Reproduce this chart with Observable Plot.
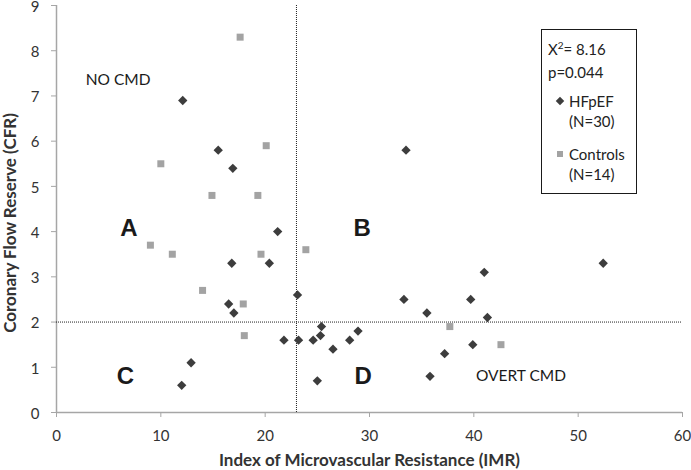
<!DOCTYPE html>
<html><head><meta charset="utf-8">
<script src="https://cdn.jsdelivr.net/npm/d3@7"></script>
<script src="https://cdn.jsdelivr.net/npm/@observablehq/plot@0.6"></script>
<style>
body{margin:0;background:#fff;font-family:Lato,sans-serif;}
#wrap{position:relative;width:691px;height:470px;}
.lg{position:absolute;font-family:Lato,sans-serif;font-size:15px;color:#222;line-height:18px;white-space:nowrap;}
#box{position:absolute;left:541px;top:29px;width:96px;height:165px;border:1.5px solid #1a1a1a;box-sizing:border-box;}
</style></head><body><div id="wrap"></div>
<script>
// HFpEF (N=30)
const hfpefIMR = [12.1,15.5,16.9,21.2,16.8,20.4,23.1,16.5,17.0,21.8,23.2,24.6,25.4,25.3,12.9,12.0,25.0,33.5,52.4,41.0,33.3,39.7,35.5,41.3,28.9,28.1,26.5,39.9,37.2,35.8];
const hfpefCFR = [6.9,5.8,5.4,4.0,3.3,3.3,2.6,2.4,2.2,1.6,1.6,1.6,1.9,1.7,1.1,0.6,0.7,5.8,3.3,3.1,2.5,2.5,2.2,2.1,1.8,1.6,1.4,1.5,1.3,0.8];
// Controls (N=14)
const controlIMR = [17.6,20.1,10.0,14.9,19.3,9.0,11.1,19.6,23.9,14.0,17.9,18.0,37.7,42.6];
const controlCFR = [8.3,5.9,5.5,4.8,4.8,3.7,3.5,3.5,3.6,2.7,2.4,1.7,1.9,1.5];
// cut-offs
const imrCut = 23;
const cfrCut = 2;
// ticks
const xTicks = [0,10,20,30,40,50,60];
const yTicks = [0,1,2,3,4,5,6,7,8,9];
// quadrant annotations
const quadLabels = ["A","B","C","D"];
const quadIMR = [6.95,29.3,6.6,29.4];
const quadCFR = [4.08,4.08,0.79,0.81];
const noteLabels = ["NO CMD","OVERT CMD"];
const noteIMR = [2.8,40.2];
const noteCFR = [7.36,0.81];
const xTitle = "Index of Microvascular Resistance (IMR)";
const yTitle = "Coronary Flow Reserve (CFR)";

const hf = hfpefIMR.map((v,i)=>({imr:v,cfr:hfpefCFR[i]}));
const ct = controlIMR.map((v,i)=>({imr:v,cfr:controlCFR[i]}));
const quads = quadLabels.map((t,i)=>({t,imr:quadIMR[i],cfr:quadCFR[i]}));
const notes = noteLabels.map((t,i)=>({t,imr:noteIMR[i],cfr:noteCFR[i]}));

const dark = "#3d3d3d", light = "#a3a3a3", axisGray = "#a6a6a6";

const plot = Plot.plot({
  width:691, height:470,
  marginLeft:56, marginRight:9, marginTop:5, marginBottom:58,
  style:{fontFamily:"Lato, sans-serif", fontSize:"15px", background:"#fff", color:"#333"},
  x:{domain:[0,60], label:null},
  y:{domain:[0,9], label:null},
  marks:[
    Plot.axisX({ticks:xTicks, tickSize:5, tickPadding:13, stroke:axisGray, fill:"#333", label:null, tickFormat:d=>String(d)}),
    Plot.axisY({ticks:yTicks, tickSize:5, stroke:axisGray, label:null, tickFormat:()=>""}),
    Plot.axisY({ticks:yTicks, tickSize:0, tickPadding:17, fill:"#333", label:null, tickFormat:d=>String(d), dy:1.5}),
    Plot.ruleY([0], {stroke:axisGray, strokeWidth:1.5}),
    Plot.ruleX([0], {stroke:axisGray, strokeWidth:1.5}),
    Plot.ruleX([imrCut], {stroke:"#222", strokeWidth:1, strokeDasharray:"1,1"}),
    Plot.ruleY([cfrCut], {stroke:"#222", strokeWidth:1, strokeDasharray:"1,1"}),
    Plot.dot(hf, {x:"imr", y:"cfr", symbol:"diamond2", r:4.2, fill:dark, stroke:"none"}),
    Plot.dot(ct, {x:"imr", y:"cfr", symbol:"square", r:3.95, fill:light, stroke:"none"}),
    Plot.text(quads, {x:"imr", y:"cfr", text:"t", fontFamily:"Liberation Sans, Arial, sans-serif", fontWeight:"bold", fontSize:24, fill:"#1a1a1a", textAnchor:"middle", lineAnchor:"middle"}),
    Plot.text(notes, {x:"imr", y:"cfr", text:"t", fontSize:15.5, fill:"#1a1a1a", textAnchor:"start", lineAnchor:"middle"}),
    Plot.text([xTitle], {frameAnchor:"bottom", dy:48, text:d=>d, fontWeight:"bold", fontSize:17, fill:"#333", textAnchor:"middle", lineAnchor:"middle"}),
    Plot.text([yTitle], {frameAnchor:"left", dx:-46, dy:14, rotate:-90, text:d=>d, fontWeight:"bold", fontSize:17, fill:"#333", textAnchor:"middle", lineAnchor:"middle"})
  ]
});
const wrap = document.getElementById("wrap");
wrap.appendChild(plot);

// legend box overlay
const box = document.createElement("div"); box.id="box"; wrap.appendChild(box);
function add(html, left, cy){
  const s=document.createElement("div"); s.className="lg"; s.innerHTML=html;
  s.style.left=left+"px"; s.style.top=(cy-9)+"px"; wrap.appendChild(s);
}
add("X<sup style='font-size:10px;vertical-align:6px;line-height:0'>2</sup>= 8.16",548,49);
add("p=0.044",548,72);
add("HFpEF",569,101);
add("(N=30)",569,121);
add("Controls",569,154);
add("(N=14)",569,174);
const dm=document.createElement("div");
dm.style.cssText=`position:absolute;left:${560-3}px;top:${101-3}px;width:6px;height:6px;background:${dark};transform:rotate(45deg);`;
wrap.appendChild(dm);
const sq=document.createElement("div");
sq.style.cssText=`position:absolute;left:${559.5-3}px;top:${154-3}px;width:6px;height:6px;background:${light};`;
wrap.appendChild(sq);
</script>
</body></html>
